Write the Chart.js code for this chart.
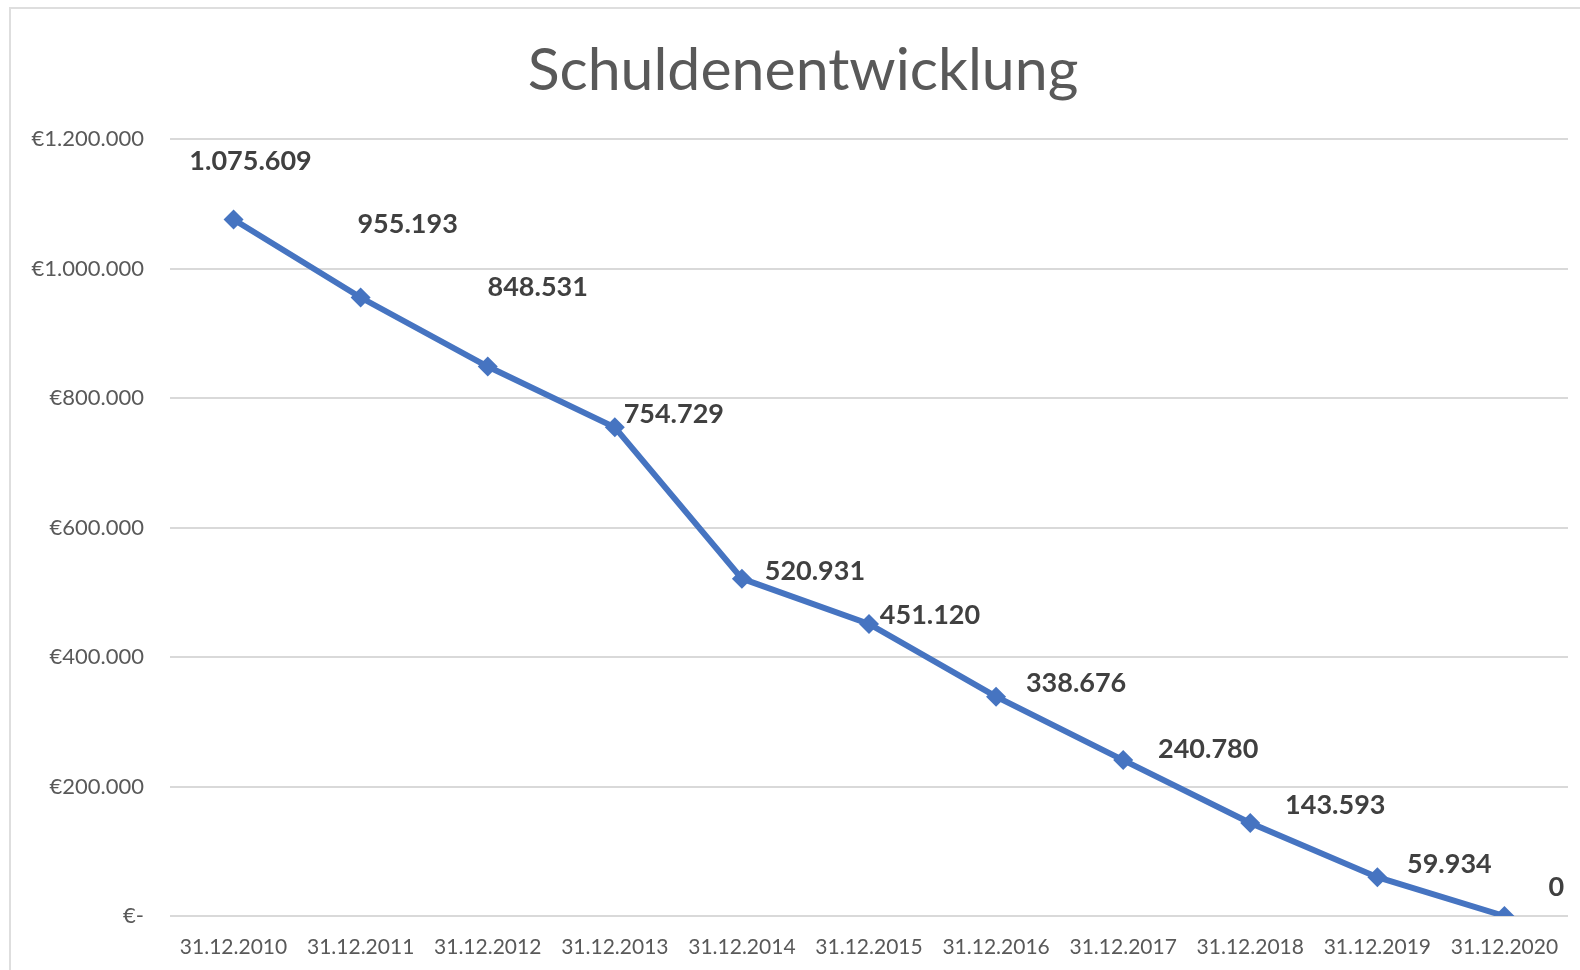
<!DOCTYPE html>
<html lang="de">
<head>
<meta charset="utf-8">
<title>Schuldenentwicklung</title>
<script src="https://cdn.jsdelivr.net/npm/chart.js@4.4.1/dist/chart.umd.min.js"></script>
<style>
    html, body { margin: 0; padding: 0; background: #fff; overflow: hidden; }
    #frame {
        position: absolute; left: 9px; top: 7px;
        width: 1700px; height: 1100px;
        border: 2px solid #dedede;
        pointer-events: none;
    }
    #wrap { position: absolute; left: 0; top: 0; width: 1580px; height: 970px; }
</style>
</head>
<body>
<div id="wrap"><canvas id="debtChart" width="1580" height="970"></canvas></div>
<div id="frame"></div>
<script>
// Daten
const chartTitle = 'Schuldenentwicklung';
const dates = ['31.12.2010', '31.12.2011', '31.12.2012', '31.12.2013', '31.12.2014', '31.12.2015',
               '31.12.2016', '31.12.2017', '31.12.2018', '31.12.2019', '31.12.2020'];
const debt = [1075609, 955193, 848531, 754729, 520931, 451120, 338676, 240780, 143593, 59934, 0];
const yTicks = [0, 200000, 400000, 600000, 800000, 1000000, 1200000];

// Verschiebung der Beschriftungen relativ zum Punkt (px)
const labelOffsets = [
    [17, -58], [47, -73], [50, -79], [59, -13], [73, -7], [61, -9],
    [80, -13], [85, -11], [85, -18], [72, -13], [52, -29]
];

const fontFamily = 'Lato, "Open Sans", sans-serif';

function dots(n) {
    return String(n).replace(/\B(?=(\d{3})+(?!\d))/g, '.');
}

// Titel, etwas rechts der Mitte wie im Original
const titleText = {
    id: 'titleText',
    beforeDraw(chart) {
        const ctx = chart.ctx;
        ctx.save();
        ctx.font = '59px ' + fontFamily;
        ctx.fillStyle = '#595959';
        ctx.textAlign = 'center';
        ctx.textBaseline = 'middle';
        ctx.fillText(chartTitle, 803, 71);
        ctx.restore();
    }
};

// Eigene Datenbeschriftung (kein datalabels-Plugin vorhanden)
const valueLabels = {
    id: 'valueLabels',
    afterDatasetsDraw(chart) {
        const ctx = chart.ctx;
        const meta = chart.getDatasetMeta(0);
        ctx.save();
        ctx.font = 'bold 27px ' + fontFamily;
        ctx.fillStyle = '#404040';
        ctx.textAlign = 'center';
        ctx.textBaseline = 'middle';
        meta.data.forEach((pt, i) => {
            const off = labelOffsets[i];
            ctx.fillText(dots(debt[i]), pt.x + off[0], pt.y + off[1]);
        });
        ctx.restore();
    }
};

const ctx = document.getElementById('debtChart').getContext('2d');

new Chart(ctx, {
    type: 'line',
    data: {
        labels: dates,
        datasets: [{
            label: 'Schulden',
            data: debt,
            borderColor: '#4674C1',
            backgroundColor: '#4674C1',
            borderWidth: 6,
            tension: 0,
            pointStyle: 'rectRot',
            pointRadius: 10,
            pointHoverRadius: 10,
            pointBorderWidth: 0
        }]
    },
    options: {
        responsive: false,
        animation: false,
        layout: { padding: { left: 26, right: 12, top: 139, bottom: 0 } },
        plugins: {
            legend: { display: false },
            tooltip: { enabled: false },
            title: { display: false }
        },
        scales: {
            x: {
                offset: true,
                grid: { display: false, drawTicks: false },
                border: { display: false },
                ticks: {
                    color: '#595959',
                    font: { family: fontFamily, size: 21 },
                    padding: 19,
                    maxRotation: 0,
                    autoSkip: false
                },
                afterFit(scale) { scale.height = 54; }
            },
            y: {
                min: 0,
                max: 1200000,
                afterBuildTicks(scale) {
                    scale.ticks = yTicks.map(v => ({ value: v }));
                },
                grid: { color: '#d9d9d9', lineWidth: 2, drawTicks: false },
                border: { display: false },
                ticks: {
                    color: '#595959',
                    font: { family: fontFamily, size: 22 },
                    padding: 26,
                    callback: v => v === 0 ? '€-' : '€' + dots(v)
                },
                afterFit(scale) { scale.width = 144; }
            }
        }
    },
    plugins: [titleText, valueLabels]
});
</script>
</body>
</html>
